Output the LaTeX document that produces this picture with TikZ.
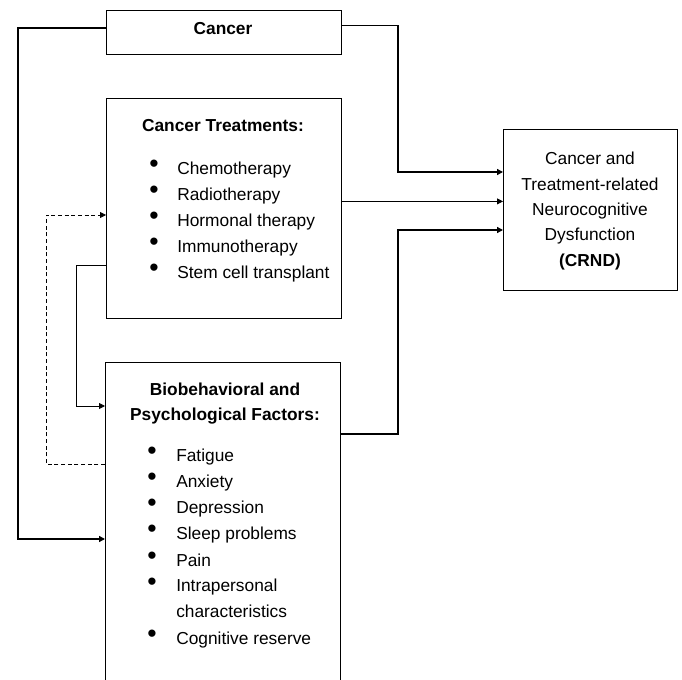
\documentclass[tikz,border=0pt]{standalone}
\usepackage{fontspec}
\setmainfont{Liberation Sans}
\usepackage{tikz}
\usetikzlibrary{arrows.meta,positioning,calc}

\newcommand{\dotmark}{{\fontsize{20}{20}\selectfont\raisebox{1.5pt}{•}}}

\begin{document}
\begin{tikzpicture}[
    x=0.75pt,
    y=-0.75pt,
    box/.style={
        rectangle,
        draw,
        line width=0.6pt,
        anchor=north west,
        inner sep=0pt,
        minimum width=176.25pt
    },
    title/.style={
        font=\fontsize{13}{19}\selectfont\bfseries,
        anchor=base,
        inner sep=0pt
    },
    entry/.style={
        font=\fontsize{13}{19}\selectfont,
        anchor=base west,
        inner sep=0pt
    },
    link/.style={
        draw,
        line width=1pt,
        -{Triangle[length=4.5pt,width=4.5pt]}
    },
    thinlink/.style={
        draw,
        line width=0.6pt,
        -{Triangle[length=4.5pt,width=4.5pt]}
    },
    dashlink/.style={
        draw,
        line width=0.6pt,
        dash pattern=on 3pt off 2pt,
        -{Triangle[length=4.5pt,width=4.5pt]}
    }
]
\clip (0,0) rectangle (682,680);

% Boxes
\node [box, minimum height=33pt] (cancer) at (106,10) {};
\node [box, minimum height=165pt] (treat) at (106,98) {};
\node [box, minimum height=247.5pt] (bio) at (105,362) {};
\node [box, minimum width=130.5pt, minimum height=120.75pt] (crnd) at (503,129) {};

% Texts
\node [title] (cancertxt) at (223,34.5) {Cancer};
\node [title] (treattxt) at (223,131.5) {Cancer Treatments:};
\node [title] (biotxt1) at (225,396) {Biobehavioral and};
\node [title] (biotxt2) at (225,421) {Psychological Factors:};
\node [align=center, font=\fontsize{13}{19}\selectfont, inner sep=0pt]
    (crndtxt) at (590,211) {Cancer and\\Treatment-related\\Neurocognitive\\Dysfunction\\\textbf{(CRND)}};

\foreach \y/\txt [count=\i] in {175/Chemotherapy, 201/Radiotherapy, 227/Hormonal therapy,
    253/Immunotherapy, 279/Stem cell transplant}
    \node [entry] (tr\i) at (149,\y) {\makebox[21pt][l]{\dotmark}\txt};

\foreach \y/\txt [count=\i] in {462/Fatigue, 488/Anxiety, 514/Depression,
    540/Sleep problems, 566/Pain, 592/Intrapersonal, 644/Cognitive reserve}
    \node [entry] (bf\i) at (147,\y) {\makebox[21.75pt][l]{\dotmark}\txt};
\node [entry] (bfcont) at (176,618) {characteristics};

% Edges
\coordinate (cl) at (18,539);
\coordinate (cr) at (398,172);
\coordinate (br) at (398,230);
\coordinate (tl) at (76,406);
\coordinate (dl) at (46,215);
\path [link] ([yshift=3.4pt]cancer.west) -| (cl) -- (cl -| bio.west);
\path [link] ([yshift=5.25pt]cancer.east) -| (cr) -- (cr -| crnd.west);
\path [thinlink] ([yshift=5.25pt]treat.east) -- ([yshift=5.25pt]treat.east -| crnd.west);
\path [link] ([yshift=-54pt]bio.north east) -| (br) -- (br -| crnd.west);
\path [thinlink] ([yshift=-42.75pt]treat.west) -| (tl) -- (tl -| bio.west);
\path [dashlink] ([yshift=-76.5pt]bio.north west) -| (dl) -- (dl -| treat.west);

\end{tikzpicture}
\end{document}
